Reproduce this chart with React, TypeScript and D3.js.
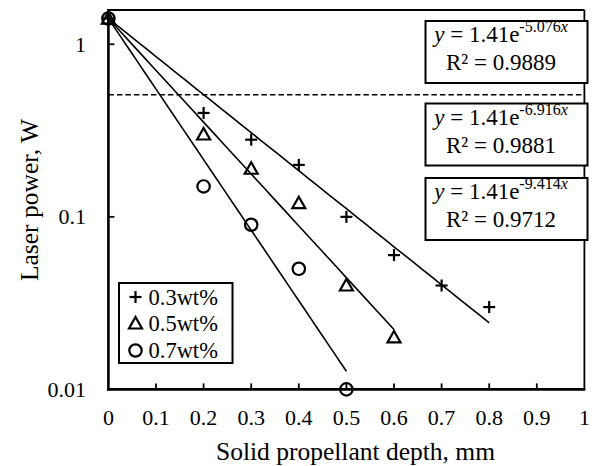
import React from "react";
import * as d3 from "d3";

const depthX = [0, 0.1, 0.2, 0.3, 0.4, 0.5, 0.6, 0.7, 0.8, 0.9, 1];
const xTickLabels = ["0", "0.1", "0.2", "0.3", "0.4", "0.5", "0.6", "0.7", "0.8", "0.9", "1"];
const yTicks = [0.01, 0.1, 1];
const yTickLabels = ["0.01", "0.1", "1"];

const depth03 = [0, 0.2, 0.3, 0.4, 0.5, 0.6, 0.7, 0.8];
const power03 = [1.41, 0.4, 0.28, 0.2, 0.1, 0.06, 0.04, 0.03];
const depth05 = [0, 0.2, 0.3, 0.4, 0.5, 0.6];
const power05 = [1.41, 0.3, 0.19, 0.12, 0.04, 0.02];
const depth07 = [0, 0.2, 0.3, 0.4, 0.5];
const power07 = [1.41, 0.15, 0.09, 0.05, 0.01];

const seriesNames = ["0.3wt%", "0.5wt%", "0.7wt%"];
const fitA = [1.41, 1.41, 1.41];
const fitB = [5.076, 6.916, 9.414];
const fitR2 = ["0.9889", "0.9881", "0.9712"];
const fitEnd = [0.8, 0.6, 0.5];
const thresholdPower = 0.51;

const W = 595;
const H = 466;
const L = 108.4, R = 584.4, T = 10, B = 389.4;
const FONT = "'Liberation Serif', 'Times New Roman', serif";

function Marker({ kind, x, y }: { kind: number; x: number; y: number }) {
  if (kind === 0) {
    return (
      <g stroke="#000" strokeWidth={2.2}>
        <line x1={x - 6} x2={x + 6} y1={y} y2={y} />
        <line x1={x} x2={x} y1={y - 6} y2={y + 6} />
      </g>
    );
  }
  if (kind === 1) {
    const p = d3.path();
    p.moveTo(x, y - 6.5);
    p.lineTo(x + 6.5, y + 5);
    p.lineTo(x - 6.5, y + 5);
    p.closePath();
    return <path d={p.toString()} fill="none" stroke="#000" strokeWidth={2.2} strokeLinejoin="miter" />;
  }
  return <circle cx={x} cy={y} r={6.2} fill="none" stroke="#000" strokeWidth={2.2} />;
}

export default function App() {
  const x = d3.scaleLinear().domain([0, 1]).range([L, R]);
  const y = d3.scaleLog().domain([0.01, 1.58]).range([B, T]);

  const series = [
    { xs: depth03, ys: power03 },
    { xs: depth05, ys: power05 },
    { xs: depth07, ys: power07 },
  ];

  const fitLine = (i: number) => {
    const pts = d3.range(0, 41).map((k) => (k / 40) * fitEnd[i]);
    return d3
      .line<number>()
      .x((d) => x(d))
      .y((d) => y(fitA[i] * Math.exp(-fitB[i] * d)))(pts) as string;
  };

  const boxTops = [21, 103.5, 178];
  const legendRows = [297, 323.5, 350.5];

  return (
    <svg width={W} height={H} style={{ position: "absolute", left: 0, top: 0 }} fontFamily={FONT}>
      <rect x={0} y={0} width={W} height={H} fill="#fff" />
      {/* frame */}
      <line x1={L} x2={R} y1={T} y2={T} stroke="#000" strokeWidth={1.8} />
      <line x1={R} x2={R} y1={T} y2={B} stroke="#000" strokeWidth={1.8} />
      {/* threshold */}
      <line x1={L} x2={R} y1={y(thresholdPower)} y2={y(thresholdPower)} stroke="#000" strokeWidth={1.5} strokeDasharray="5.5,3" />
      {/* fit lines */}
      {[0, 1, 2].map((i) => (
        <path key={i} d={fitLine(i)} fill="none" stroke="#000" strokeWidth={1.6} />
      ))}
      {/* x ticks */}
      {depthX.map((d, i) => (
        <g key={i}>
          {i > 0 && i < depthX.length - 1 && (
            <line x1={x(d)} x2={x(d)} y1={B} y2={B - 6} stroke="#000" strokeWidth={1.8} />
          )}
          <text x={x(d)} y={425} textAnchor="middle" fontSize={22}>
            {xTickLabels[i]}
          </text>
        </g>
      ))}
      {/* y ticks */}
      {yTicks.map((d, i) => (
        <g key={i}>
          {d !== 0.01 && <line x1={L} x2={L + 6} y1={y(d)} y2={y(d)} stroke="#000" strokeWidth={1.8} />}
          <text x={86} y={y(d) + 7.5} textAnchor="end" fontSize={22}>
            {yTickLabels[i]}
          </text>
        </g>
      ))}
      {/* axes */}
      <line x1={L} x2={L} y1={T - 0.9} y2={B + 1.2} stroke="#000" strokeWidth={2.6} />
      <line x1={L - 1.3} x2={R + 0.9} y1={B} y2={B} stroke="#000" strokeWidth={2.6} />
      {/* markers */}
      {series.map((s, i) =>
        s.xs.map((d, j) => <Marker key={`${i}-${j}`} kind={i} x={x(d)} y={y(s.ys[j])} />)
      )}
      {/* equation boxes */}
      {[0, 1, 2].map((i) => (
        <g key={i}>
          <rect x={425.5} y={boxTops[i]} width={162} height={62} fill="#fff" stroke="#000" strokeWidth={2} />
          <text x={501} y={boxTops[i] + 21} textAnchor="middle" fontSize={23}>
            <tspan fontStyle="italic">y</tspan>
            <tspan> = 1.41e</tspan>
            <tspan fontSize={16} dy={-10}>
              -{fitB[i].toFixed(3)}
            </tspan>
            <tspan fontSize={16} fontStyle="italic">x</tspan>
          </text>
          <text x={501} y={boxTops[i] + 49} textAnchor="middle" fontSize={23}>
            R² = {fitR2[i]}
          </text>
        </g>
      ))}
      {/* legend */}
      <rect x={119} y={283} width={113.5} height={80} fill="#fff" stroke="#000" strokeWidth={2} />
      {seriesNames.map((n, i) => (
        <g key={i}>
          <Marker kind={i} x={135.5} y={legendRows[i]} />
          <text x={148.5} y={legendRows[i] + 7.5} fontSize={22.5}>
            {n}
          </text>
        </g>
      ))}
      {/* axis titles */}
      <text x={355.5} y={459.5} textAnchor="middle" fontSize={25.5}>
        Solid propellant depth, mm
      </text>
      <text transform="translate(37.5,200) rotate(-90)" textAnchor="middle" fontSize={25.5}>
        Laser power, W
      </text>
    </svg>
  );
}
